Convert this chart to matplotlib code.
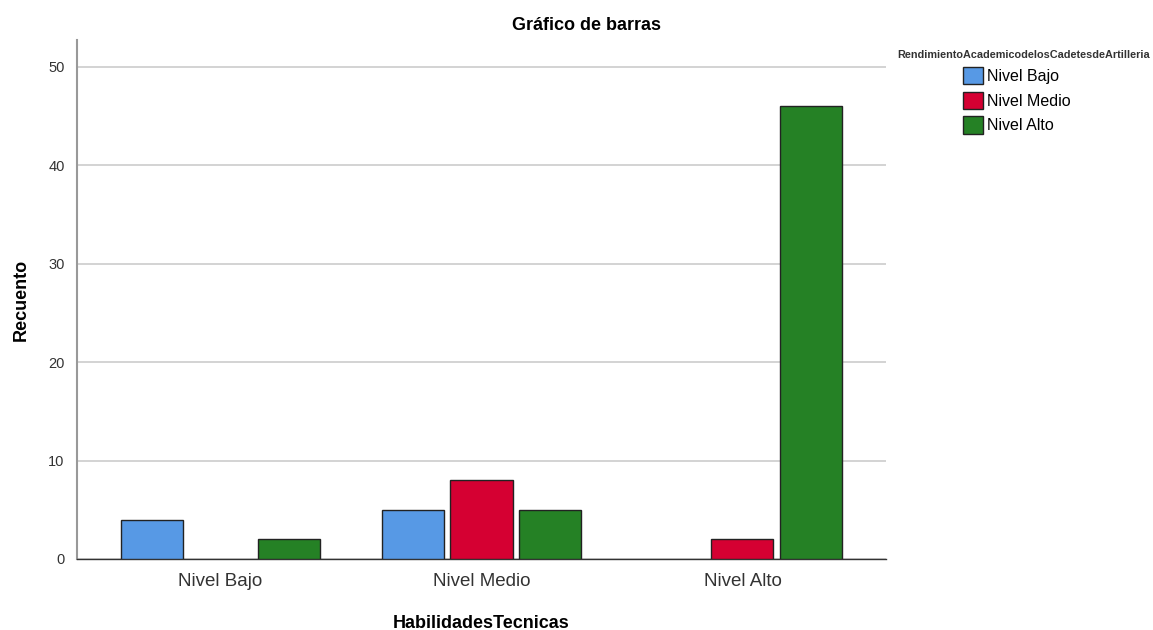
import numpy as np
import matplotlib.pyplot as plt
from matplotlib.patches import Patch

plt.rcParams['font.family'] = ['Liberation Sans', 'DejaVu Sans']

# data
categories = ['Nivel Bajo', 'Nivel Medio', 'Nivel Alto']
series = ['Nivel Bajo', 'Nivel Medio', 'Nivel Alto']
bajo = [4, 5, 0]
medio = [0, 8, 2]
alto = [2, 5, 46]
values = [bajo, medio, alto]
colors = ['#5799e5', '#d50032', '#258125']

fig = plt.figure(figsize=(11.53, 6.3), dpi=100)
ax = fig.add_axes([0.0668, 0.1127, 0.7016, 0.8238])

x = np.arange(len(categories))
width = 0.238
step = 0.262
for i, (vals, col) in enumerate(zip(values, colors)):
    v = np.array(vals, dtype=float)
    mask = v > 0
    ax.bar(x[mask] + (i - 1) * step, v[mask], width=width, color=col,
           edgecolor='#222222', linewidth=1.0, zorder=3)

ax.set_xlim(-0.55, 2.55)
ax.set_ylim(0, 52.7)
ax.set_yticks([0, 10, 20, 30, 40, 50])
ax.set_xticks(x)
ax.set_xticklabels(categories, fontsize=13.5, color='#333333')
ax.tick_params(axis='y', labelsize=10.5, length=0, pad=9, labelcolor='#333333')
ax.tick_params(axis='x', length=0, pad=10)
ax.yaxis.grid(True, color='#cccccc', linewidth=1.2, zorder=0)
ax.set_axisbelow(True)

for s in ['top', 'right']:
    ax.spines[s].set_visible(False)
ax.spines['left'].set_color('#999999')
ax.spines['left'].set_linewidth(1.5)
ax.spines['bottom'].set_color('#333333')
ax.spines['bottom'].set_linewidth(1.0)

ax.set_ylabel('Recuento', fontsize=13, fontweight='bold', labelpad=13)
ax.set_xlabel('HabilidadesTecnicas', fontsize=13, fontweight='bold', labelpad=18)
fig.text(587 / 1153, 1 - 25 / 630, 'Gráfico de barras', ha='center', va='center',
         fontsize=13, fontweight='bold')

handles = [Patch(facecolor=c, edgecolor='#222222', linewidth=1.0) for c in colors]
leg = fig.legend(handles, series, loc='upper left', bbox_to_anchor=(963 / 1153, 1 - 67 / 630),
                 frameon=False, fontsize=11.5, handlelength=1.25, handleheight=1.3,
                 handletextpad=0.25, labelspacing=0.45, borderaxespad=0, borderpad=0)
fig.text(1024 / 1153, 1 - 55 / 630, 'RendimientoAcademicodelosCadetesdeArtilleria',
         ha='center', va='center', fontsize=7.8, fontweight='bold', color='#333333')

fig.savefig('out.png', dpi=100)
